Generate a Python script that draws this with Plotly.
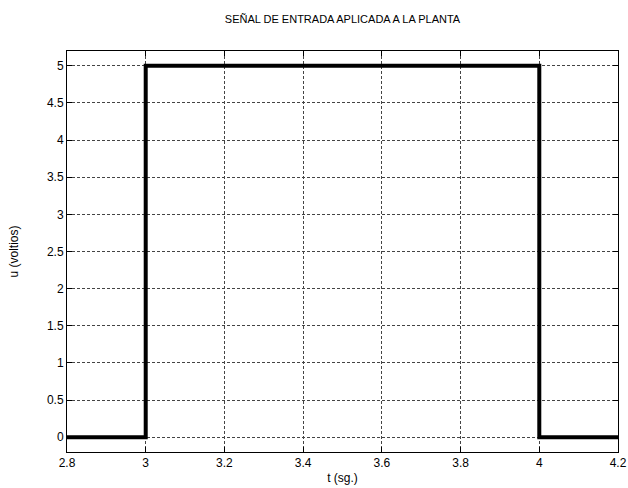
import plotly.graph_objects as go

t = [2.8, 3.0, 3.0, 4.0, 4.0, 4.2]
u = [0, 0, 5, 5, 0, 0]
x_ticks = [2.8, 3.0, 3.2, 3.4, 3.6, 3.8, 4.0, 4.2]
x_labels = ["2.8", "3", "3.2", "3.4", "3.6", "3.8", "4", "4.2"]
y_ticks = [0, 0.5, 1, 1.5, 2, 2.5, 3, 3.5, 4, 4.5, 5]
y_labels = ["0", "0.5", "1", "1.5", "2", "2.5", "3", "3.5", "4", "4.5", "5"]

font = dict(family="Liberation Sans, Arial, sans-serif", size=12, color="black")

fig = go.Figure()
fig.add_trace(go.Scatter(x=t, y=u, mode="lines",
                         line=dict(color="black", width=4), showlegend=False))

axis_common = dict(
    showline=True, linecolor="black", linewidth=1, mirror="ticks",
    ticks="inside", ticklen=5, tickcolor="black",
    showgrid=True, gridcolor="#444444", griddash="3px,2px", gridwidth=1,
    zeroline=False, tickfont=font, automargin=False,
)

fig.update_layout(
    width=628, height=488,
    margin=dict(l=67, r=10, t=51, b=36),
    paper_bgcolor="white", plot_bgcolor="white",
    font=font,
    title=dict(text="SEÑAL DE ENTRADA APLICADA A LA PLANTA",
               x=(67 + 618) / 2 / 628, xanchor="center",
               y=1 - 19 / 488, yanchor="middle", automargin=False,
               font=dict(family="Liberation Sans, Arial, sans-serif", size=11, color="black")),
    xaxis=dict(range=[2.8, 4.2], tickvals=x_ticks, ticktext=x_labels,
               title=dict(text="t (sg.)", font=font, standoff=4), **axis_common),
    yaxis=dict(range=[-0.2, 5.2], tickvals=y_ticks, ticktext=y_labels,
               title=dict(text="u (voltios)", font=font, standoff=25), **axis_common),
)

fig.write_html("out.html", config={"displayModeBar": False},
               post_script="document.body.style.margin='0';document.body.style.overflow='hidden';")
